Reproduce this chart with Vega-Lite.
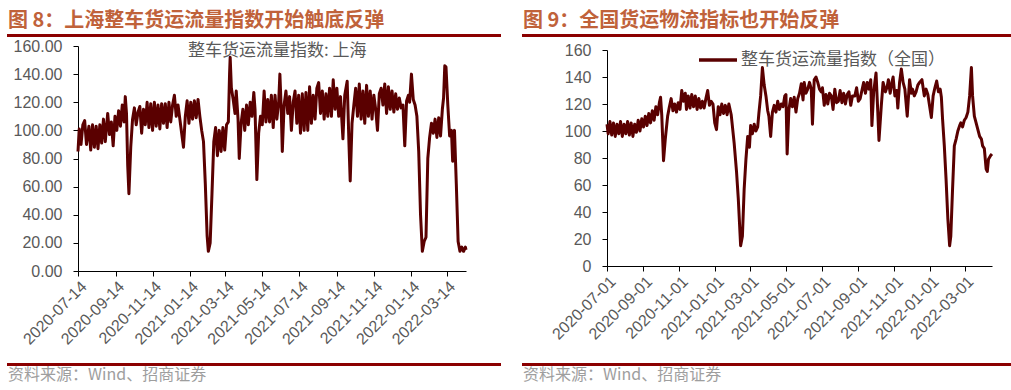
{
  "$schema": "https://vega.github.io/schema/vega-lite/v6.json",
  "background": "white",
  "padding": {"left": 7, "top": 11, "right": 0, "bottom": 0},
  "autosize": {"type": "pad"},
  "config": {"view": {"stroke": null}, "font": "Noto Sans CJK SC"},
  "spacing": 21,
  "resolve": {"scale": {"color": "independent"}, "legend": {"color": "independent"}},
  "datasets": {
    "sh": [
      {"d":"2020-07-14","v":85},{"d":"2020-07-16","v":101},{"d":"2020-07-19","v":90},{"d":"2020-07-22","v":104},{"d":"2020-07-25","v":107},{"d":"2020-07-28","v":90},
      {"d":"2020-08-01","v":103},{"d":"2020-08-04","v":86},{"d":"2020-08-07","v":104},{"d":"2020-08-10","v":88},{"d":"2020-08-13","v":103},{"d":"2020-08-16","v":87},{"d":"2020-08-19","v":104},{"d":"2020-08-22","v":91},{"d":"2020-08-25","v":108},{"d":"2020-08-28","v":92},
      {"d":"2020-09-01","v":112},{"d":"2020-09-04","v":97},{"d":"2020-09-07","v":106},{"d":"2020-09-10","v":89},{"d":"2020-09-13","v":110},{"d":"2020-09-16","v":100},{"d":"2020-09-19","v":114},{"d":"2020-09-22","v":103},{"d":"2020-09-25","v":118},{"d":"2020-09-28","v":106},{"d":"2020-09-30","v":124},
      {"d":"2020-10-02","v":112},{"d":"2020-10-04","v":75},{"d":"2020-10-06","v":55},{"d":"2020-10-09","v":88},{"d":"2020-10-12","v":108},{"d":"2020-10-15","v":116},{"d":"2020-10-18","v":104},{"d":"2020-10-21","v":113},{"d":"2020-10-24","v":117},{"d":"2020-10-27","v":98},{"d":"2020-10-30","v":115},
      {"d":"2020-11-02","v":104},{"d":"2020-11-05","v":120},{"d":"2020-11-08","v":102},{"d":"2020-11-11","v":119},{"d":"2020-11-14","v":100},{"d":"2020-11-17","v":120},{"d":"2020-11-20","v":103},{"d":"2020-11-23","v":118},{"d":"2020-11-26","v":101},{"d":"2020-11-29","v":119},
      {"d":"2020-12-02","v":105},{"d":"2020-12-05","v":119},{"d":"2020-12-08","v":102},{"d":"2020-12-11","v":120},{"d":"2020-12-14","v":106},{"d":"2020-12-17","v":118},{"d":"2020-12-20","v":125},{"d":"2020-12-23","v":110},{"d":"2020-12-26","v":118},{"d":"2020-12-29","v":108},
      {"d":"2021-01-01","v":98},{"d":"2021-01-04","v":88},{"d":"2021-01-07","v":110},{"d":"2021-01-10","v":121},{"d":"2021-01-13","v":105},{"d":"2021-01-16","v":120},{"d":"2021-01-19","v":108},{"d":"2021-01-22","v":121},{"d":"2021-01-25","v":109},{"d":"2021-01-28","v":122},{"d":"2021-01-31","v":110},
      {"d":"2021-02-03","v":100},{"d":"2021-02-06","v":92},{"d":"2021-02-09","v":62},{"d":"2021-02-12","v":25},{"d":"2021-02-14","v":14},{"d":"2021-02-17","v":20},{"d":"2021-02-20","v":55},{"d":"2021-02-23","v":92},{"d":"2021-02-26","v":102},
      {"d":"2021-03-01","v":82},{"d":"2021-03-04","v":100},{"d":"2021-03-07","v":85},{"d":"2021-03-10","v":102},{"d":"2021-03-13","v":86},{"d":"2021-03-16","v":104},{"d":"2021-03-19","v":106},{"d":"2021-03-21","v":140},{"d":"2021-03-22","v":152},{"d":"2021-03-24","v":130},{"d":"2021-03-27","v":122},{"d":"2021-03-30","v":112},
      {"d":"2021-04-01","v":128},{"d":"2021-04-04","v":108},{"d":"2021-04-06","v":80},{"d":"2021-04-09","v":105},{"d":"2021-04-12","v":115},{"d":"2021-04-15","v":100},{"d":"2021-04-18","v":118},{"d":"2021-04-21","v":104},{"d":"2021-04-24","v":120},{"d":"2021-04-27","v":110},{"d":"2021-04-30","v":127},
      {"d":"2021-05-02","v":115},{"d":"2021-05-05","v":65},{"d":"2021-05-08","v":98},{"d":"2021-05-11","v":110},{"d":"2021-05-14","v":104},{"d":"2021-05-17","v":128},{"d":"2021-05-20","v":106},{"d":"2021-05-23","v":122},{"d":"2021-05-26","v":106},{"d":"2021-05-29","v":125},
      {"d":"2021-06-01","v":102},{"d":"2021-06-04","v":125},{"d":"2021-06-07","v":108},{"d":"2021-06-10","v":120},{"d":"2021-06-12","v":140},{"d":"2021-06-14","v":118},{"d":"2021-06-16","v":85},{"d":"2021-06-19","v":118},{"d":"2021-06-22","v":128},{"d":"2021-06-25","v":112},{"d":"2021-06-28","v":124},
      {"d":"2021-07-01","v":100},{"d":"2021-07-04","v":120},{"d":"2021-07-07","v":128},{"d":"2021-07-10","v":105},{"d":"2021-07-13","v":125},{"d":"2021-07-16","v":98},{"d":"2021-07-19","v":126},{"d":"2021-07-22","v":100},{"d":"2021-07-25","v":127},{"d":"2021-07-28","v":100},{"d":"2021-07-31","v":131},
      {"d":"2021-08-03","v":105},{"d":"2021-08-06","v":125},{"d":"2021-08-09","v":108},{"d":"2021-08-12","v":130},{"d":"2021-08-15","v":134},{"d":"2021-08-18","v":112},{"d":"2021-08-21","v":128},{"d":"2021-08-24","v":108},{"d":"2021-08-27","v":126},{"d":"2021-08-30","v":110},
      {"d":"2021-09-02","v":130},{"d":"2021-09-05","v":110},{"d":"2021-09-08","v":136},{"d":"2021-09-11","v":115},{"d":"2021-09-14","v":130},{"d":"2021-09-17","v":110},{"d":"2021-09-20","v":124},{"d":"2021-09-24","v":94},{"d":"2021-09-27","v":125},
      {"d":"2021-10-01","v":135},{"d":"2021-10-04","v":90},{"d":"2021-10-06","v":64},{"d":"2021-10-09","v":105},{"d":"2021-10-12","v":118},{"d":"2021-10-15","v":130},{"d":"2021-10-18","v":110},{"d":"2021-10-21","v":133},{"d":"2021-10-24","v":108},{"d":"2021-10-27","v":128},{"d":"2021-10-30","v":105},
      {"d":"2021-11-02","v":132},{"d":"2021-11-05","v":110},{"d":"2021-11-08","v":128},{"d":"2021-11-11","v":108},{"d":"2021-11-14","v":125},{"d":"2021-11-17","v":115},{"d":"2021-11-20","v":100},{"d":"2021-11-23","v":126},{"d":"2021-11-26","v":130},{"d":"2021-11-29","v":118},
      {"d":"2021-12-02","v":133},{"d":"2021-12-05","v":112},{"d":"2021-12-08","v":131},{"d":"2021-12-11","v":115},{"d":"2021-12-14","v":128},{"d":"2021-12-17","v":113},{"d":"2021-12-20","v":126},{"d":"2021-12-23","v":115},{"d":"2021-12-26","v":123},{"d":"2021-12-29","v":116},
      {"d":"2022-01-01","v":118},{"d":"2022-01-04","v":89},{"d":"2022-01-07","v":121},{"d":"2022-01-10","v":125},{"d":"2022-01-12","v":120},{"d":"2022-01-15","v":140},{"d":"2022-01-18","v":122},{"d":"2022-01-21","v":118},{"d":"2022-01-24","v":110},{"d":"2022-01-27","v":85},{"d":"2022-01-30","v":40},
      {"d":"2022-02-02","v":14},{"d":"2022-02-05","v":21},{"d":"2022-02-08","v":24},{"d":"2022-02-11","v":80},{"d":"2022-02-14","v":95},{"d":"2022-02-17","v":105},{"d":"2022-02-20","v":98},{"d":"2022-02-23","v":108},{"d":"2022-02-26","v":95},
      {"d":"2022-03-01","v":109},{"d":"2022-03-04","v":96},{"d":"2022-03-07","v":115},{"d":"2022-03-09","v":123},{"d":"2022-03-11","v":146},{"d":"2022-03-13","v":145},{"d":"2022-03-16","v":118},{"d":"2022-03-19","v":96},{"d":"2022-03-22","v":100},{"d":"2022-03-24","v":78},{"d":"2022-03-27","v":100},{"d":"2022-03-30","v":62},
      {"d":"2022-04-02","v":21},{"d":"2022-04-05","v":14},{"d":"2022-04-08","v":17},{"d":"2022-04-11","v":14},{"d":"2022-04-14","v":17},{"d":"2022-04-15","v":15}
    ],
    "qg": [
      {"d":"2020-07-01","v":105},{"d":"2020-07-03","v":98},{"d":"2020-07-06","v":107},{"d":"2020-07-09","v":97},{"d":"2020-07-12","v":106},{"d":"2020-07-15","v":96},{"d":"2020-07-18","v":105},{"d":"2020-07-21","v":98},{"d":"2020-07-24","v":107},{"d":"2020-07-27","v":96},{"d":"2020-07-30","v":105},
      {"d":"2020-08-02","v":98},{"d":"2020-08-05","v":107},{"d":"2020-08-08","v":97},{"d":"2020-08-11","v":106},{"d":"2020-08-14","v":96},{"d":"2020-08-17","v":105},{"d":"2020-08-20","v":99},{"d":"2020-08-23","v":108},{"d":"2020-08-26","v":100},{"d":"2020-08-29","v":109},
      {"d":"2020-09-01","v":103},{"d":"2020-09-04","v":111},{"d":"2020-09-07","v":104},{"d":"2020-09-10","v":113},{"d":"2020-09-13","v":106},{"d":"2020-09-16","v":115},{"d":"2020-09-19","v":108},{"d":"2020-09-22","v":118},{"d":"2020-09-25","v":112},{"d":"2020-09-28","v":121},{"d":"2020-09-30","v":125},
      {"d":"2020-10-02","v":112},{"d":"2020-10-05","v":78},{"d":"2020-10-08","v":94},{"d":"2020-10-12","v":111},{"d":"2020-10-15","v":118},{"d":"2020-10-18","v":124},{"d":"2020-10-21","v":115},{"d":"2020-10-24","v":120},{"d":"2020-10-27","v":114},{"d":"2020-10-30","v":121},
      {"d":"2020-11-02","v":116},{"d":"2020-11-05","v":130},{"d":"2020-11-08","v":122},{"d":"2020-11-11","v":128},{"d":"2020-11-13","v":116},{"d":"2020-11-16","v":126},{"d":"2020-11-19","v":117},{"d":"2020-11-22","v":127},{"d":"2020-11-25","v":118},{"d":"2020-11-28","v":126},
      {"d":"2020-12-01","v":116},{"d":"2020-12-04","v":124},{"d":"2020-12-07","v":117},{"d":"2020-12-10","v":122},{"d":"2020-12-13","v":117},{"d":"2020-12-16","v":124},{"d":"2020-12-19","v":130},{"d":"2020-12-22","v":119},{"d":"2020-12-25","v":122},{"d":"2020-12-28","v":120},{"d":"2020-12-31","v":106},
      {"d":"2021-01-03","v":101},{"d":"2021-01-06","v":118},{"d":"2021-01-09","v":112},{"d":"2021-01-12","v":120},{"d":"2021-01-15","v":113},{"d":"2021-01-18","v":119},{"d":"2021-01-21","v":112},{"d":"2021-01-24","v":120},{"d":"2021-01-28","v":112},
      {"d":"2021-02-02","v":91},{"d":"2021-02-06","v":70},{"d":"2021-02-09","v":50},{"d":"2021-02-13","v":15},{"d":"2021-02-16","v":22},{"d":"2021-02-19","v":57},{"d":"2021-02-22","v":79},{"d":"2021-02-25","v":96},{"d":"2021-02-28","v":88},
      {"d":"2021-03-02","v":104},{"d":"2021-03-05","v":98},{"d":"2021-03-08","v":105},{"d":"2021-03-11","v":100},{"d":"2021-03-14","v":103},{"d":"2021-03-16","v":113},{"d":"2021-03-19","v":126},{"d":"2021-03-22","v":147},{"d":"2021-03-25","v":134},{"d":"2021-03-28","v":126},{"d":"2021-03-31","v":115},
      {"d":"2021-04-02","v":111},{"d":"2021-04-05","v":96},{"d":"2021-04-08","v":114},{"d":"2021-04-11","v":119},{"d":"2021-04-14","v":114},{"d":"2021-04-17","v":122},{"d":"2021-04-20","v":116},{"d":"2021-04-23","v":120},{"d":"2021-04-26","v":118},{"d":"2021-04-29","v":126},
      {"d":"2021-05-01","v":127},{"d":"2021-05-03","v":83},{"d":"2021-05-06","v":116},{"d":"2021-05-09","v":124},{"d":"2021-05-12","v":118},{"d":"2021-05-15","v":125},{"d":"2021-05-18","v":114},{"d":"2021-05-21","v":124},{"d":"2021-05-24","v":128},{"d":"2021-05-27","v":135},{"d":"2021-05-30","v":123},
      {"d":"2021-06-01","v":136},{"d":"2021-06-04","v":128},{"d":"2021-06-07","v":131},{"d":"2021-06-10","v":136},{"d":"2021-06-13","v":131},{"d":"2021-06-15","v":105},{"d":"2021-06-18","v":138},{"d":"2021-06-21","v":140},{"d":"2021-06-24","v":136},{"d":"2021-06-27","v":131},{"d":"2021-06-30","v":129},
      {"d":"2021-07-02","v":132},{"d":"2021-07-05","v":119},{"d":"2021-07-08","v":127},{"d":"2021-07-11","v":120},{"d":"2021-07-14","v":128},{"d":"2021-07-17","v":126},{"d":"2021-07-20","v":116},{"d":"2021-07-23","v":131},{"d":"2021-07-26","v":121},{"d":"2021-07-29","v":122},
      {"d":"2021-08-01","v":130},{"d":"2021-08-04","v":121},{"d":"2021-08-07","v":128},{"d":"2021-08-10","v":120},{"d":"2021-08-13","v":127},{"d":"2021-08-16","v":129},{"d":"2021-08-19","v":119},{"d":"2021-08-22","v":126},{"d":"2021-08-26","v":126},{"d":"2021-08-29","v":132},
      {"d":"2021-09-01","v":122},{"d":"2021-09-04","v":124},{"d":"2021-09-07","v":130},{"d":"2021-09-10","v":136},{"d":"2021-09-13","v":128},{"d":"2021-09-16","v":136},{"d":"2021-09-19","v":131},{"d":"2021-09-22","v":138},{"d":"2021-09-24","v":104},{"d":"2021-09-27","v":129},
      {"d":"2021-10-01","v":143},{"d":"2021-10-04","v":114},{"d":"2021-10-06","v":93},{"d":"2021-10-10","v":119},{"d":"2021-10-13","v":136},{"d":"2021-10-17","v":129},{"d":"2021-10-20","v":133},{"d":"2021-10-22","v":138},{"d":"2021-10-25","v":128},{"d":"2021-10-28","v":136},{"d":"2021-10-30","v":140},
      {"d":"2021-11-02","v":126},{"d":"2021-11-05","v":130},{"d":"2021-11-07","v":117},{"d":"2021-11-10","v":136},{"d":"2021-11-13","v":146},{"d":"2021-11-16","v":136},{"d":"2021-11-19","v":131},{"d":"2021-11-23","v":111},{"d":"2021-11-27","v":138},{"d":"2021-11-30","v":128},
      {"d":"2021-12-02","v":131},{"d":"2021-12-05","v":126},{"d":"2021-12-08","v":129},{"d":"2021-12-11","v":134},{"d":"2021-12-14","v":136},{"d":"2021-12-18","v":138},{"d":"2021-12-22","v":126},{"d":"2021-12-25","v":131},{"d":"2021-12-28","v":127},
      {"d":"2022-01-03","v":110},{"d":"2022-01-06","v":126},{"d":"2022-01-09","v":132},{"d":"2022-01-12","v":137},{"d":"2022-01-15","v":129},{"d":"2022-01-18","v":131},{"d":"2022-01-20","v":125},{"d":"2022-01-22","v":109},{"d":"2022-01-25","v":89},{"d":"2022-01-28","v":64},{"d":"2022-01-31","v":35},
      {"d":"2022-02-03","v":15},{"d":"2022-02-05","v":22},{"d":"2022-02-08","v":57},{"d":"2022-02-11","v":89},{"d":"2022-02-14","v":94},{"d":"2022-02-17","v":100},{"d":"2022-02-20","v":104},{"d":"2022-02-22","v":106},{"d":"2022-02-25","v":103},{"d":"2022-02-28","v":108},
      {"d":"2022-03-03","v":110},{"d":"2022-03-06","v":114},{"d":"2022-03-09","v":126},{"d":"2022-03-12","v":147},{"d":"2022-03-14","v":126},{"d":"2022-03-17","v":111},{"d":"2022-03-20","v":106},{"d":"2022-03-23","v":101},{"d":"2022-03-26","v":96},{"d":"2022-03-29","v":94},{"d":"2022-03-31","v":89},
      {"d":"2022-04-03","v":87},{"d":"2022-04-06","v":72},{"d":"2022-04-08","v":70},{"d":"2022-04-10","v":79},{"d":"2022-04-14","v":82},{"d":"2022-04-16","v":83}
    ]
  },
  "hconcat": [
    {
      "spacing": 1,
      "resolve": {"scale": {"color": "independent"}, "legend": {"color": "independent"}},
      "vconcat": [
        {
          "width": 388, "height": 3,
          "title": {"text": "图 8：上海整车货运流量指数开始触底反弹", "anchor": "start", "frame": "bounds", "orient": "top", "offset": -17, "baseline": "bottom", "dx": 1, "fontSize": 20, "fontWeight": "bold", "color": "#C0623A", "font": "Noto Sans CJK SC"},
          "data": {"values": [{}]},
          "mark": {"type": "rect", "color": "#8B0000"},
          "encoding": {
            "x": {"datum": 0, "type": "quantitative", "scale": {"domain": [0, 1], "range": [-71, 423]}, "axis": null},
            "x2": {"datum": 1}
          }
        },
        {
          "width": 388, "height": 225,
          "data": {"name": "sh"},
          "mark": {"type": "line", "strokeWidth": 3, "strokeJoin": "round"},
          "encoding": {
            "x": {
              "field": "d", "type": "temporal",
              "scale": {"type": "utc", "domain": [{"year": 2020, "month": 7, "date": 14, "utc": true}, {"year": 2022, "month": 4, "date": 15, "utc": true}]},
              "axis": {
                "title": null, "grid": false, "format": "%Y-%m-%d", "labelAngle": -45,
                "values": [
                  {"year": 2020, "month": 7, "date": 14, "utc": true}, {"year": 2020, "month": 9, "date": 14, "utc": true}, {"year": 2020, "month": 11, "date": 14, "utc": true},
                  {"year": 2021, "month": 1, "date": 14, "utc": true}, {"year": 2021, "month": 3, "date": 14, "utc": true}, {"year": 2021, "month": 5, "date": 14, "utc": true},
                  {"year": 2021, "month": 7, "date": 14, "utc": true}, {"year": 2021, "month": 9, "date": 14, "utc": true}, {"year": 2021, "month": 11, "date": 14, "utc": true},
                  {"year": 2022, "month": 1, "date": 14, "utc": true}, {"year": 2022, "month": 3, "date": 14, "utc": true}
                ],
                "labelFont": "Liberation Sans", "labelFontSize": 16, "labelColor": "#595959",
                "labelOverlap": false, "labelFlush": false, "labelBound": false, "labelPadding": 2,
                "tickSize": 5, "tickColor": "#000000", "domainColor": "#000000", "minExtent": 91
              }
            },
            "y": {
              "field": "v", "type": "quantitative",
              "scale": {"domain": [0, 160], "nice": false},
              "axis": {
                "title": null, "grid": false, "format": ".2f", "values": [0, 20, 40, 60, 80, 100, 120, 140, 160],
                "labelFont": "Liberation Sans", "labelFontSize": 16, "labelColor": "#595959", "labelPadding": 11,
                "tickSize": 5, "tickColor": "#000000", "domainColor": "#000000", "minExtent": 71, "maxExtent": 71
              }
            },
            "color": {
              "datum": "整车货运流量指数: 上海", "type": "nominal",
              "scale": {"range": ["#5A0000"]},
              "legend": {"orient": "none", "legendX": 89, "legendY": -4, "title": null, "padding": 0, "symbolSize": 0, "symbolOpacity": 0, "labelOffset": 4, "labelFont": "Noto Sans CJK SC", "labelFontSize": 17, "labelColor": "#595959", "labelLimit": 400}
            }
          }
        },
        {
          "width": 388, "height": 3,
          "title": {"text": "资料来源：Wind、招商证券", "anchor": "start", "frame": "bounds", "orient": "bottom", "offset": 1, "baseline": "top", "dx": 1, "fontSize": 16, "fontWeight": "normal", "color": "#9E9E9E", "font": "Noto Sans CJK SC"},
          "data": {"values": [{}]},
          "mark": {"type": "rect", "color": "#8B0000"},
          "encoding": {
            "x": {"datum": 0, "type": "quantitative", "scale": {"domain": [0, 1], "range": [-71, 423]}, "axis": null},
            "x2": {"datum": 1}
          }
        }
      ]
    },
    {
      "spacing": 2,
      "resolve": {"scale": {"color": "independent"}, "legend": {"color": "independent"}},
      "vconcat": [
        {
          "width": 385, "height": 3,
          "title": {"text": "图 9：全国货运物流指标也开始反弹", "anchor": "start", "frame": "bounds", "orient": "top", "offset": -17, "baseline": "bottom", "dx": 1, "fontSize": 20, "fontWeight": "bold", "color": "#C0623A", "font": "Noto Sans CJK SC"},
          "data": {"values": [{}]},
          "mark": {"type": "rect", "color": "#8B0000"},
          "encoding": {
            "x": {"datum": 0, "type": "quantitative", "scale": {"domain": [0, 1], "range": [-85, 404]}, "axis": null},
            "x2": {"datum": 1}
          }
        },
        {
          "width": 385, "height": 216,
          "data": {"name": "qg"},
          "mark": {"type": "line", "strokeWidth": 3, "strokeJoin": "round"},
          "encoding": {
            "x": {
              "field": "d", "type": "temporal",
              "scale": {"type": "utc", "domain": [{"year": 2020, "month": 7, "date": 1, "utc": true}, {"year": 2022, "month": 4, "date": 16, "utc": true}]},
              "axis": {
                "title": null, "grid": false, "format": "%Y-%m-%d", "labelAngle": -45,
                "values": [
                  {"year": 2020, "month": 7, "date": 1, "utc": true}, {"year": 2020, "month": 9, "date": 1, "utc": true}, {"year": 2020, "month": 11, "date": 1, "utc": true},
                  {"year": 2021, "month": 1, "date": 1, "utc": true}, {"year": 2021, "month": 3, "date": 1, "utc": true}, {"year": 2021, "month": 5, "date": 1, "utc": true},
                  {"year": 2021, "month": 7, "date": 1, "utc": true}, {"year": 2021, "month": 9, "date": 1, "utc": true}, {"year": 2021, "month": 11, "date": 1, "utc": true},
                  {"year": 2022, "month": 1, "date": 1, "utc": true}, {"year": 2022, "month": 3, "date": 1, "utc": true}
                ],
                "labelFont": "Liberation Sans", "labelFontSize": 16, "labelColor": "#595959",
                "labelOverlap": false, "labelFlush": false, "labelBound": false, "labelPadding": 2,
                "tickSize": 5, "tickColor": "#000000", "domainColor": "#000000", "minExtent": 95
              }
            },
            "y": {
              "field": "v", "type": "quantitative",
              "scale": {"domain": [0, 160], "nice": false},
              "axis": {
                "title": null, "grid": false, "format": "d", "values": [0, 20, 40, 60, 80, 100, 120, 140, 160],
                "labelFont": "Liberation Sans", "labelFontSize": 16, "labelColor": "#595959", "labelPadding": 11,
                "tickSize": 5, "tickColor": "#000000", "domainColor": "#000000", "minExtent": 85, "maxExtent": 85
              }
            },
            "color": {
              "datum": "整车货运流量指数（全国）", "type": "nominal",
              "scale": {"range": ["#5A0000"]},
              "legend": {"orient": "none", "legendX": 90, "legendY": -11, "title": null, "padding": 0, "symbolType": "stroke", "symbolSize": 1444, "symbolStrokeWidth": 3.5, "symbolStrokeColor": "#5A0000", "labelOffset": 2, "labelFont": "Noto Sans CJK SC", "labelFontSize": 17, "labelColor": "#595959", "labelLimit": 400}
            }
          }
        },
        {
          "width": 385, "height": 3,
          "title": {"text": "资料来源：Wind、招商证券", "anchor": "start", "frame": "bounds", "orient": "bottom", "offset": 1, "baseline": "top", "dx": 1, "fontSize": 16, "fontWeight": "normal", "color": "#9E9E9E", "font": "Noto Sans CJK SC"},
          "data": {"values": [{}]},
          "mark": {"type": "rect", "color": "#8B0000"},
          "encoding": {
            "x": {"datum": 0, "type": "quantitative", "scale": {"domain": [0, 1], "range": [-85, 404]}, "axis": null},
            "x2": {"datum": 1}
          }
        }
      ]
    }
  ]
}
